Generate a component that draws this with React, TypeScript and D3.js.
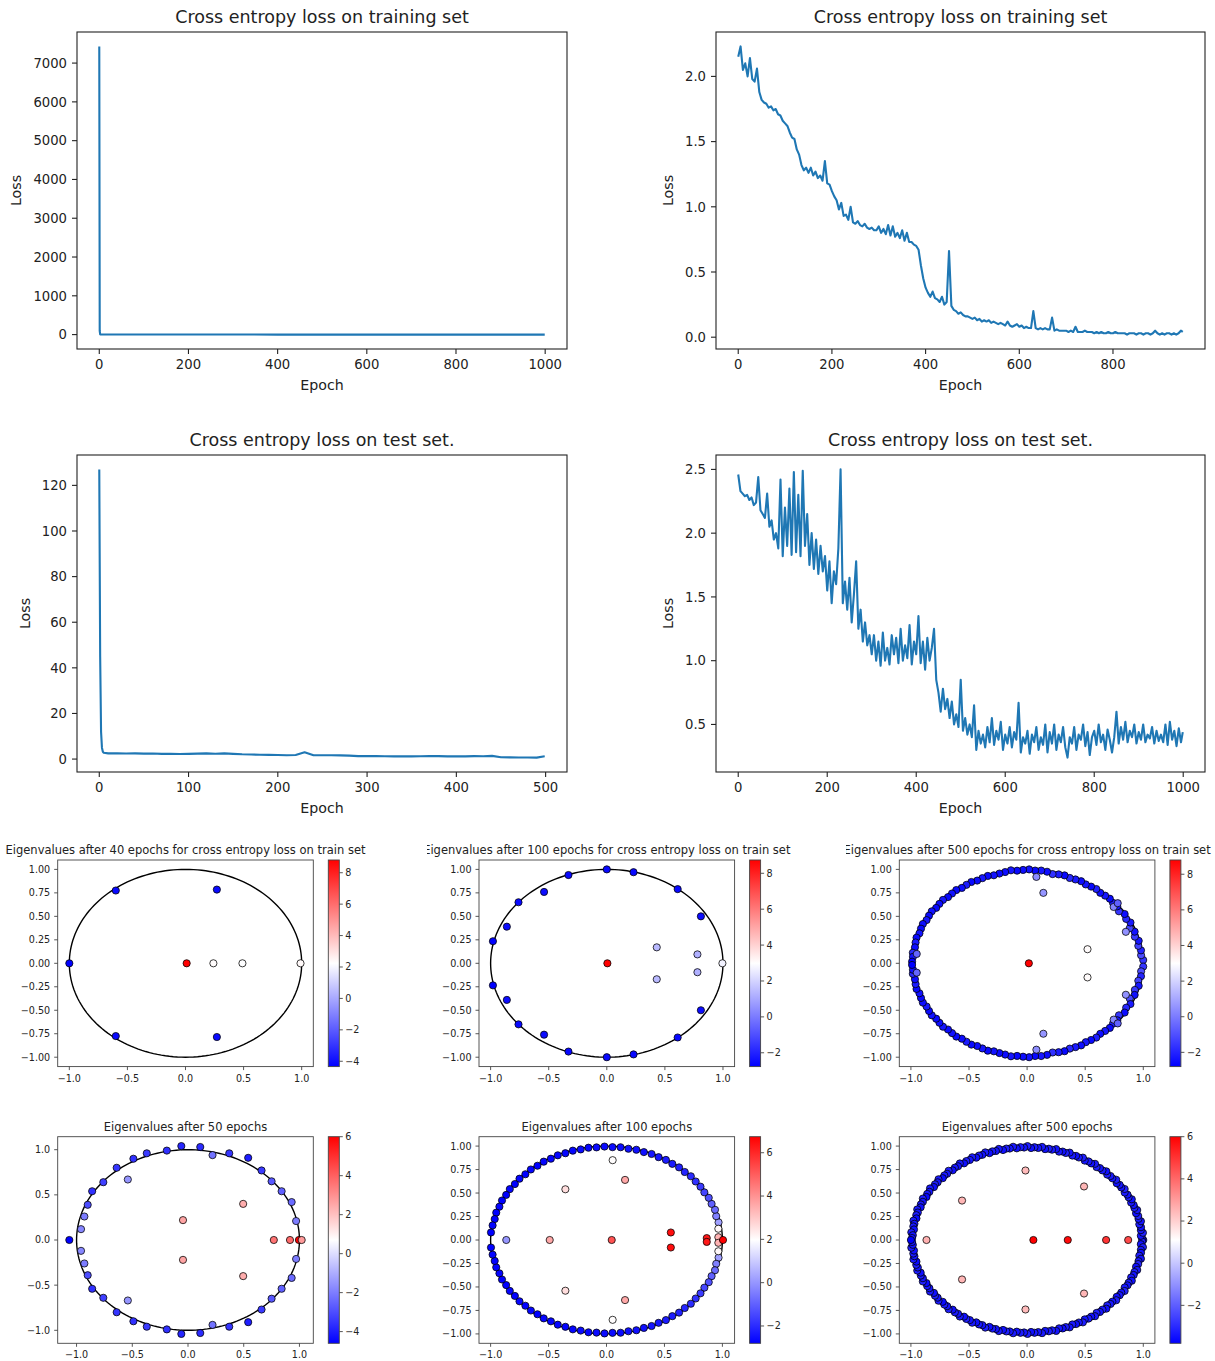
import React from 'react';
import * as d3 from 'd3';

const FONT = "'DejaVu Sans', sans-serif";
const LINE_COLOR = '#1f77b4';
const TXT = '#222';

// ---------------- Loss curves ----------------
const trainLossLeftEpochs = [0, 1, 2, 3, 5, 50, 100, 200, 300, 400, 500, 600, 700, 800, 900, 999];
const trainLossLeftValues = [7430, 95, 8, 2.6, 2.2, 2.0, 1.6, 1.1, 0.85, 0.35, 0.15, 0.08, 0.05, 0.03, 0.03, 0.03];
const trainLossLeftXTicks = [0, 200, 400, 600, 800, 1000];
const trainLossLeftYTicks = [0, 1000, 2000, 3000, 4000, 5000, 6000, 7000];

const trainLossRightValues = [
  2.15, 2.23, 2.05, 2.1, 2.0, 2.14, 1.98, 1.96, 2.06, 1.88,
  1.82, 1.8, 1.79, 1.76, 1.77, 1.74, 1.75, 1.71, 1.7, 1.66,
  1.64, 1.62, 1.57, 1.53, 1.52, 1.44, 1.4, 1.32, 1.28, 1.3,
  1.26, 1.3, 1.24, 1.27, 1.22, 1.24, 1.2, 1.35, 1.18, 1.17,
  1.12, 1.08, 1.05, 0.98, 1.03, 0.93, 0.94, 0.9, 1.0, 0.88,
  0.87, 0.89, 0.86, 0.85, 0.87, 0.84, 0.83, 0.84, 0.82, 0.82,
  0.85, 0.8, 0.83, 0.79, 0.86, 0.78, 0.85, 0.77, 0.8, 0.76,
  0.82, 0.74, 0.8, 0.73, 0.73, 0.71, 0.7, 0.67, 0.55, 0.45,
  0.38, 0.34, 0.31, 0.35, 0.3, 0.29, 0.27, 0.31, 0.25, 0.27,
  0.66, 0.24, 0.21, 0.2, 0.18, 0.19, 0.17, 0.16, 0.16, 0.15,
  0.14, 0.15, 0.13, 0.14, 0.12, 0.13, 0.12, 0.13, 0.11, 0.12,
  0.11, 0.1, 0.11, 0.1, 0.09, 0.12, 0.09, 0.08, 0.09, 0.1,
  0.08, 0.09, 0.07, 0.08, 0.07, 0.07, 0.2, 0.07, 0.06, 0.07,
  0.06, 0.07, 0.06, 0.06, 0.15, 0.05, 0.06, 0.05, 0.05, 0.05,
  0.05, 0.04, 0.05, 0.04, 0.08, 0.04, 0.04, 0.04, 0.05, 0.04,
  0.04, 0.04, 0.03, 0.04, 0.03, 0.04, 0.03, 0.03, 0.04, 0.03,
  0.03, 0.04, 0.03, 0.03, 0.03, 0.03, 0.02, 0.03, 0.03, 0.03,
  0.02, 0.03, 0.03, 0.02, 0.03, 0.03, 0.02, 0.03, 0.05, 0.03,
  0.02, 0.03, 0.02, 0.03, 0.03, 0.02, 0.03, 0.02, 0.03, 0.05,
  0.04,
];
const trainLossRightEpochs = trainLossRightValues.map((_, i) => Math.min(i * 5, 949));
const trainLossRightXTicks = [0, 200, 400, 600, 800];
const trainLossRightYTicks = [0, 0.5, 1.0, 1.5, 2.0];

const testLossLeftEpochs = [
  0, 1, 2, 3, 4, 5, 10, 20, 30, 40, 50, 60, 70, 80, 90, 100, 110, 120, 130, 140, 150, 160, 170, 180, 190, 200,
  210, 220, 230, 240, 250, 260, 270, 280, 290, 300, 310, 320, 330, 340, 350, 360, 370, 380, 390, 400,
  410, 420, 430, 440, 450, 460, 470, 480, 490, 499,
];
const testLossLeftValues = [
  127, 45, 12, 5, 3.2, 2.8,
  2.5, 2.5, 2.45, 2.5, 2.4, 2.45, 2.3, 2.35, 2.2, 2.3,
  2.4, 2.5, 2.35, 2.5, 2.3, 2.1, 2.0, 1.9, 1.85, 1.8,
  1.7, 1.8, 3.0, 1.7, 1.65, 1.7, 1.6, 1.5, 1.3, 1.3,
  1.3, 1.25, 1.2, 1.25, 1.2, 1.25, 1.3, 1.3, 1.2, 1.25,
  1.2, 1.3, 1.25, 1.4, 0.8, 0.75, 0.7, 0.7, 0.65,
  1.2,
];
const testLossLeftXTicks = [0, 100, 200, 300, 400, 500];
const testLossLeftYTicks = [0, 20, 40, 60, 80, 100, 120];

const testLossRightValues = [
  2.46, 2.33, 2.31, 2.29, 2.3, 2.26, 2.28, 2.22, 2.24, 2.44,
  2.18, 2.15, 2.12, 2.31, 2.05, 2.1, 1.95, 2.0, 1.88, 2.42,
  1.82, 2.2, 1.9, 2.35, 1.83, 2.48, 1.85, 2.3, 1.82, 2.49,
  1.9, 2.15, 1.75, 2.0, 1.72, 1.95, 1.68, 1.9, 1.7, 1.82,
  1.55, 1.78, 1.45, 1.7, 1.6, 1.88, 2.5, 1.45, 1.62, 1.4,
  1.65, 1.3, 1.52, 1.78, 1.25, 1.4, 1.15, 1.3, 1.12, 1.2,
  1.05, 1.2, 1.0, 1.15, 0.96, 1.22, 1.0, 1.1, 0.97, 1.2,
  1.05, 1.18, 0.98, 1.25, 1.0, 1.12, 1.02, 1.28, 0.97, 1.15,
  1.05, 1.35, 0.98, 1.15, 0.93, 1.18, 1.0, 1.1, 1.25, 0.85,
  0.75, 0.6, 0.78, 0.62, 0.7, 0.55, 0.68, 0.5, 0.58, 0.48,
  0.85, 0.45, 0.55, 0.42, 0.5, 0.4, 0.65, 0.3, 0.45, 0.35,
  0.42, 0.32, 0.48, 0.36, 0.55, 0.34, 0.45, 0.38, 0.52, 0.3,
  0.42, 0.35, 0.48, 0.32, 0.44, 0.38, 0.67, 0.28, 0.4, 0.35,
  0.45, 0.27, 0.42, 0.36, 0.48, 0.3, 0.4, 0.34, 0.5, 0.28,
  0.44, 0.35, 0.5, 0.3, 0.42, 0.36, 0.48, 0.32, 0.24, 0.4,
  0.35, 0.48, 0.3, 0.42, 0.38, 0.5, 0.33, 0.44, 0.26, 0.4,
  0.45, 0.34, 0.5, 0.36, 0.42, 0.3, 0.46, 0.38, 0.28, 0.4,
  0.6, 0.35, 0.48, 0.38, 0.52, 0.36, 0.45, 0.4, 0.5, 0.35,
  0.44, 0.38, 0.5, 0.36, 0.42, 0.39, 0.48, 0.35, 0.45, 0.37,
  0.42, 0.36, 0.5, 0.34, 0.52, 0.38, 0.45, 0.33, 0.47, 0.36,
  0.44,
];
const testLossRightEpochs = testLossRightValues.map((_, i) => Math.min(i * 5, 999));
const testLossRightXTicks = [0, 200, 400, 600, 800, 1000];
const testLossRightYTicks = [0.5, 1.0, 1.5, 2.0, 2.5];

// ---------------- Eigenvalues (upper half-plane; conjugates are mirrored) ----------------
type Pt = [number, number, number]; // re, im, colour value
type RingPt = [number, number, number]; // angle (deg), modulus, colour value

const eigTrain40: Pt[] = [
  [-1.0, 0, -4.34], [-0.6, 0.775, -4.1], [0.27, 0.785, -4.1],
  [0.01, 0, 8.81], [0.24, 0, 2.3], [0.49, 0, 2.2], [0.99, 0, 2.4],
];

const eigTrain100: Pt[] = [
  [0.0, 1.0, -2.6], [0.23, 0.97, -2.6], [0.61, 0.79, -2.6], [0.81, 0.5, -2.5],
  [-0.33, 0.94, -2.6], [-0.54, 0.76, -2.5], [-0.76, 0.65, -2.6], [-0.86, 0.39, -2.5], [-0.98, 0.235, -2.77],
  [0.005, 0, 8.74], [0.43, 0.17, 1.4], [0.78, 0.095, 1.2], [0.995, 0, 2.7],
];

const eigTrain500Inner: Pt[] = [
  [0.015, 0, 8.8], [0.52, 0.15, 3.1], [0.14, 0.75, 0.6], [0.08, 0.92, 0.4],
  [0.85, 0.335, 0.5], [0.745, 0.6, 0.2], [0.78, 0.64, -0.6], [-0.95, 0.1, -0.5],
];
const eigTrain500Ring: RingPt[] = [
  [2, 1.0, -1.6], [5, 0.985, -1.1], [8, 0.99, -2.0], [11, 0.975, -1.3], [14, 0.99, -2.3], [17, 0.97, -1.5],
  [20, 0.985, -2.4], [23, 0.96, -1.2], [26, 0.99, -2.2], [29, 0.975, -1.9], [32, 0.99, -2.5], [35, 0.965, -1.6],
  [38, 0.985, -2.4], [41, 0.98, -2.1], [44, 0.99, -2.6], [47, 0.985, -2.3], [50, 0.98, -2.5], [53, 0.99, -2.1],
  [56, 0.985, -2.6], [59, 0.98, -2.3], [62, 0.99, -2.5], [65, 0.985, -2.2], [68, 0.98, -1.9], [71, 0.99, -2.6],
  [74, 0.985, -2.2], [77, 0.975, -1.7], [80, 0.99, -2.5], [83, 0.995, -2.3], [86, 0.99, -2.6], [89, 1.0, -2.4],
  [92, 0.995, -2.5], [95, 0.99, -2.6], [98, 1.0, -2.3], [101, 0.99, -2.5], [104, 0.985, -2.6], [107, 0.98, -2.4],
  [110, 0.99, -2.6], [113, 0.985, -2.3], [116, 0.98, -2.5], [119, 0.99, -2.6], [122, 0.985, -2.2], [125, 0.98, -2.5],
  [128, 0.99, -2.6], [131, 0.985, -2.4], [134, 0.98, -2.6], [137, 0.99, -2.3], [140, 0.985, -2.5], [143, 0.98, -2.6],
  [146, 0.99, -2.4], [149, 0.985, -2.6], [152, 0.98, -2.3], [155, 0.99, -2.5], [158, 0.985, -2.6], [161, 0.98, -2.4],
  [164, 0.99, -2.6], [167, 0.985, -2.2], [170, 0.98, -2.5], [173.5, 0.99, -1.8], [176, 0.985, -2.4], [179, 0.99, -2.8],
];

const eigTest50: Pt[] = [
  [-1.065, 0, -4.6], [-0.96, 0.12, -1.8], [-0.93, 0.26, -2.0], [-0.9, 0.39, -3.0], [-0.86, 0.54, -3.6],
  [-0.76, 0.64, -3.3], [-0.64, 0.8, -3.5], [-0.54, 0.67, -1.5], [-0.49, 0.9, -3.6], [-0.37, 0.96, -3.4],
  [-0.19, 0.99, -3.6], [-0.06, 1.04, -3.8], [0.11, 1.03, -3.7], [0.22, 0.94, -2.2], [0.37, 0.96, -3.5],
  [0.54, 0.91, -4.0], [0.66, 0.77, -3.4], [0.75, 0.65, -2.8], [0.84, 0.54, -2.6], [0.93, 0.42, -2.4],
  [0.97, 0.21, -2.0], [-0.045, 0.22, 2.6], [0.495, 0.4, 2.4], [0.77, 0, 3.6], [0.915, 0, 3.8],
  [0.995, 0, 6.0], [1.02, 0, 2.8],
];

const eigTest100Inner: Pt[] = [
  [-0.865, 0, 0.0], [-0.49, 0, 3.6], [0.045, 0, 5.2], [-0.355, 0.54, 2.6], [0.16, 0.64, 3.6],
  [0.053, 0.85, 2.0], [0.555, 0.08, 6.5], [0.865, 0.02, 6.3], [0.965, 0.12, 2.1], [0.965, 0.03, 3.4],
  [1.005, 0, 6.74],
];
const eigTest100Ring: RingPt[] = [
  [11, 0.985, 0.2], [15, 0.98, -0.4], [19, 0.99, -0.8], [23, 0.985, -1.0], [27, 0.99, -1.3], [31, 0.985, -1.5],
  [35, 0.99, -1.7], [39, 0.99, -1.9], [43, 0.995, -2.0], [47, 0.99, -2.1], [51, 0.995, -2.2], [55, 0.99, -2.3],
  [59, 0.995, -2.3], [63, 0.99, -2.4], [67, 0.995, -2.4], [71, 0.99, -2.5], [75, 0.995, -2.5], [79, 0.99, -2.5],
  [83, 0.995, -2.6], [87, 0.99, -2.6], [91, 0.995, -2.6], [95, 0.99, -2.6], [99, 0.995, -2.7], [103, 0.99, -2.6],
  [107, 0.995, -2.7], [111, 0.99, -2.7], [115, 0.995, -2.7], [119, 0.99, -2.7], [123, 0.995, -2.7], [127, 0.99, -2.8],
  [131, 0.995, -2.7], [135, 0.99, -2.8], [139, 0.995, -2.7], [143, 0.99, -2.8], [147, 0.995, -2.7], [151, 0.99, -2.8],
  [155, 0.995, -2.8], [159, 0.99, -2.7], [163, 0.995, -2.8], [167, 0.99, -2.8], [171, 0.995, -2.7], [175.4, 1.0, -2.8],
];

const eigTest500Inner: Pt[] = [
  [-0.866, 0, 2.6], [0.054, 0, 6.0], [0.35, 0, 5.8], [0.68, 0, 5.0], [0.87, 0, 4.6],
  [-0.56, 0.42, 2.5], [-0.014, 0.74, 2.4], [0.49, 0.57, 2.5],
];
const eigTest500Ring: RingPt[] = [
  [0, 1.0, -3.3], [0.9, 0.99, -3.2], [2.6, 0.98, -3.4], [4.4, 1.0, -3.1], [6.1, 0.985, -3.3], [7.9, 0.99, -3.5],
  [9.8, 0.98, -3.2], [11.5, 1.0, -3.4], [13.2, 0.985, -3.3], [15.0, 0.99, -3.1], [16.9, 0.98, -3.5], [18.6, 1.0, -3.3],
  [20.3, 0.985, -3.2], [22.1, 0.99, -3.4], [24.0, 0.98, -3.3], [25.7, 1.0, -3.5], [27.5, 0.985, -3.2], [29.2, 0.99, -3.4],
  [31.0, 0.98, -3.3], [32.9, 1.0, -3.1], [34.6, 0.985, -3.4], [36.4, 0.99, -3.3], [38.1, 0.98, -3.5], [39.9, 1.0, -3.2],
  [41.8, 0.985, -3.4], [43.5, 0.99, -3.3], [45.3, 0.98, -3.2], [47.0, 1.0, -3.5], [48.8, 0.985, -3.3], [50.7, 0.99, -3.4],
  [52.4, 0.98, -3.2], [54.2, 1.0, -3.3], [55.9, 0.985, -3.5], [57.7, 0.99, -3.3], [59.6, 0.98, -3.4], [61.3, 1.0, -3.2],
  [63.1, 0.985, -3.3], [64.8, 0.99, -3.5], [66.6, 0.98, -3.3], [68.5, 1.0, -3.4], [70.2, 0.985, -3.2], [72.0, 0.99, -3.5],
  [73.7, 0.98, -3.3], [75.5, 1.0, -3.4], [77.4, 0.985, -3.3], [79.1, 0.99, -3.2], [80.9, 0.98, -3.5], [82.6, 1.0, -3.3],
  [84.4, 0.985, -3.4], [86.3, 0.99, -3.3], [88.0, 0.98, -3.5], [89.8, 1.0, -3.2], [91.5, 0.985, -3.4], [93.3, 0.99, -3.3],
  [95.2, 0.98, -3.5], [96.9, 1.0, -3.3], [98.7, 0.985, -3.4], [100.4, 0.99, -3.2], [102.2, 0.98, -3.5], [104.1, 1.0, -3.3],
  [105.8, 0.985, -3.4], [107.6, 0.99, -3.3], [109.3, 0.98, -3.5], [111.1, 1.0, -3.2], [113.0, 0.985, -3.4], [114.7, 0.99, -3.3],
  [116.5, 0.98, -3.5], [118.2, 1.0, -3.3], [120.0, 0.985, -3.4], [121.9, 0.99, -3.2], [123.6, 0.98, -3.5], [125.4, 1.0, -3.3],
  [127.1, 0.985, -3.4], [128.9, 0.99, -3.3], [130.8, 0.98, -3.5], [132.5, 1.0, -3.2], [134.3, 0.985, -3.4], [136.0, 0.99, -3.3],
  [137.8, 0.98, -3.6], [139.7, 1.0, -3.3], [141.4, 0.985, -3.4], [143.2, 0.99, -3.2], [144.9, 0.98, -3.5], [146.7, 1.0, -3.3],
  [148.6, 0.985, -3.4], [150.3, 0.99, -3.3], [152.1, 0.98, -3.6], [153.8, 1.0, -3.2], [155.6, 0.985, -3.4], [157.5, 0.99, -3.3],
  [159.2, 0.98, -3.5], [161.0, 1.0, -3.3], [162.7, 0.985, -3.4], [164.5, 0.99, -3.2], [166.4, 0.98, -3.6], [168.1, 1.0, -3.3],
  [169.9, 0.985, -3.4], [171.6, 0.99, -3.3], [173.4, 0.98, -3.5], [175.3, 1.0, -3.2], [177.0, 0.985, -3.4], [178.8, 0.99, -3.3],
  [180, 1.0, -3.8],
];

const unitYTicks = [-1, -0.75, -0.5, -0.25, 0, 0.25, 0.5, 0.75, 1];
const halfYTicks = [-1, -0.5, 0, 0.5, 1];
const unitXTicks = [-1, -0.5, 0, 0.5, 1];

const fromRing = (ring: RingPt[]): Pt[] =>
  ring.map(([a, r, v]) => [r * Math.cos((a * Math.PI) / 180), r * Math.sin((a * Math.PI) / 180), v] as Pt);
const withConjugates = (pts: Pt[]): Pt[] =>
  pts.flatMap((p) => (p[1] > 1e-9 ? [p, [p[0], -p[1], p[2]] as Pt] : [p]));

const padDomain = (lo: number, hi: number): [number, number] => {
  const m = (hi - lo) * 0.05;
  return [lo - m, hi + m];
};

// ---------------- Components ----------------
function LossChart(props: {
  box: { x: number; y: number; w: number; h: number };
  title: string;
  epochs: number[];
  values: number[];
  xTicks: number[];
  yTicks: number[];
  yFmt: string;
  yLabelX: number;
}) {
  const { box, title, epochs, values, xTicks, yTicks, yFmt, yLabelX } = props;
  const [x0, x1] = d3.extent(epochs) as [number, number];
  const [y0, y1] = d3.extent(values) as [number, number];
  const x = d3.scaleLinear().domain(padDomain(x0, x1)).range([box.x, box.x + box.w]);
  const y = d3.scaleLinear().domain(padDomain(y0, y1)).range([box.y + box.h, box.y]);
  const line = d3
    .line<number>()
    .x((_, i) => x(epochs[i]))
    .y((d) => y(d));
  const fmt = d3.format(yFmt);
  const tl = 5;
  return (
    <g fontFamily={FONT}>
      <text x={box.x + box.w / 2} y={box.y - 9} textAnchor="middle" fontSize={17.5} fill={TXT}>
        {title}
      </text>
      <path d={line(values) || ''} fill="none" stroke={LINE_COLOR} strokeWidth={2.1} strokeLinejoin="round" />
      <rect x={box.x} y={box.y} width={box.w} height={box.h} fill="none" stroke={TXT} strokeWidth={1.1} />
      {xTicks.map((t) => (
        <g key={'x' + t}>
          <line x1={x(t)} x2={x(t)} y1={box.y + box.h} y2={box.y + box.h + tl} stroke={TXT} strokeWidth={1.1} />
          <text x={x(t)} y={box.y + box.h + 20} textAnchor="middle" fontSize={13.2} fill={TXT}>
            {String(t)}
          </text>
        </g>
      ))}
      {yTicks.map((t) => (
        <g key={'y' + t}>
          <line x1={box.x - tl} x2={box.x} y1={y(t)} y2={y(t)} stroke={TXT} strokeWidth={1.1} />
          <text x={box.x - 10} y={y(t)} dy="0.36em" textAnchor="end" fontSize={13.2} fill={TXT}>
            {fmt(t)}
          </text>
        </g>
      ))}
      <text x={box.x + box.w / 2} y={box.y + box.h + 41} textAnchor="middle" fontSize={14.2} fill={TXT}>
        Epoch
      </text>
      <text
        transform={`translate(${yLabelX},${box.y + box.h / 2}) rotate(-90)`}
        textAnchor="middle"
        dy="0.36em"
        fontSize={14.2}
        fill={TXT}
      >
        Loss
      </text>
    </g>
  );
}

function EigPanel(props: {
  id: string;
  ox: number;
  oy: number;
  title: string;
  pts: Pt[];
  yTicks: number[];
  yFmt: string;
  cTicks: number[];
  clipLeft: number;
}) {
  const { id, ox, oy, title, pts, yTicks, yFmt, cTicks, clipLeft } = props;
  const ax = { x: ox + 57.7, y: oy, w: 255.6, h: 206.6 };
  const xs = pts.map((p) => p[0]).concat([-1, 1]);
  const ys = pts.map((p) => p[1]).concat([-1, 1]);
  const x = d3
    .scaleLinear()
    .domain(padDomain(d3.min(xs) as number, d3.max(xs) as number))
    .range([ax.x, ax.x + ax.w]);
  const y = d3
    .scaleLinear()
    .domain(padDomain(d3.min(ys) as number, d3.max(ys) as number))
    .range([ax.y + ax.h, ax.y]);
  const vs = pts.map((p) => p[2]);
  const vmin = d3.min(vs) as number;
  const vmax = d3.max(vs) as number;
  const color = d3
    .scaleLinear<string>()
    .domain([vmin, (vmin + vmax) / 2, vmax])
    .range(['#0000ff', '#ffffff', '#ff0000'])
    .interpolate(d3.interpolateRgb);
  const circle = d3.line()(
    d3.range(0, 361, 2).map((a) => [x(Math.cos((a * Math.PI) / 180)), y(Math.sin((a * Math.PI) / 180))] as [number, number])
  );
  const cb = { x: ax.x + ax.w + 15, y: ax.y, w: 11, h: ax.h };
  const c = d3.scaleLinear().domain([vmin, vmax]).range([cb.y + cb.h, cb.y]);
  const xf = d3.format('.1f');
  const yf = d3.format(yFmt);
  const tl = 3.5;
  const fs = 9.6;
  return (
    <g fontFamily={FONT}>
      <defs>
        <linearGradient id={'grad' + id} x1="0" y1="1" x2="0" y2="0">
          <stop offset="0" stopColor="#0000ff" />
          <stop offset="0.5" stopColor="#ffffff" />
          <stop offset="1" stopColor="#ff0000" />
        </linearGradient>
        <clipPath id={'clip' + id}>
          <rect x={clipLeft} y={oy - 30} width={420} height={30} />
        </clipPath>
      </defs>
      <text
        x={ax.x + ax.w / 2}
        y={oy - 6}
        textAnchor="middle"
        fontSize={11.5}
        fill={TXT}
        clipPath={`url(#clip${id})`}
      >
        {title}
      </text>
      <rect x={ax.x} y={ax.y} width={ax.w} height={ax.h} fill="#fff" stroke="#444" strokeWidth={0.9} />
      <path d={circle || ''} fill="none" stroke="#000" strokeWidth={1.4} />
      {pts.map((p, i) => (
        <circle
          key={i}
          cx={x(p[0])}
          cy={y(p[1])}
          r={3.6}
          fill={color(p[2])}
          stroke="#000"
          strokeOpacity={0.85}
          strokeWidth={0.9}
        />
      ))}
      {unitXTicks.map((t) => (
        <g key={'x' + t}>
          <line x1={x(t)} x2={x(t)} y1={ax.y + ax.h} y2={ax.y + ax.h + tl} stroke="#444" strokeWidth={0.9} />
          <text x={x(t)} y={ax.y + ax.h + 15} textAnchor="middle" fontSize={fs} fill={TXT}>
            {xf(t)}
          </text>
        </g>
      ))}
      {yTicks.map((t) => (
        <g key={'y' + t}>
          <line x1={ax.x - tl} x2={ax.x} y1={y(t)} y2={y(t)} stroke="#444" strokeWidth={0.9} />
          <text x={ax.x - 7.5} y={y(t)} dy="0.36em" textAnchor="end" fontSize={fs} fill={TXT}>
            {yf(t)}
          </text>
        </g>
      ))}
      <rect x={cb.x} y={cb.y} width={cb.w} height={cb.h} fill={`url(#grad${id})`} stroke="#444" strokeWidth={0.9} />
      {cTicks.map((t) => (
        <g key={'c' + t}>
          <line x1={cb.x + cb.w} x2={cb.x + cb.w + tl} y1={c(t)} y2={c(t)} stroke="#444" strokeWidth={0.9} />
          <text x={cb.x + cb.w + 6} y={c(t)} dy="0.36em" textAnchor="start" fontSize={fs} fill={TXT}>
            {d3.format('d')(t)}
          </text>
        </g>
      ))}
    </g>
  );
}

export default function App() {
  const row1 = 860;
  const row2 = 1136.7;
  const ox = [0, 421.3, 841.6];
  const clips = [0, 427, 846];
  return (
    <svg
      width={1215}
      height={1361}
      viewBox="0 0 1215 1361"
      style={{ position: 'absolute', left: 0, top: 0, background: '#fff' }}
    >
      <rect x={0} y={0} width={1215} height={1361} fill="#fff" />
      <LossChart
        box={{ x: 77, y: 32, w: 490, h: 317 }}
        title="Cross entropy loss on training set"
        epochs={trainLossLeftEpochs}
        values={trainLossLeftValues}
        xTicks={trainLossLeftXTicks}
        yTicks={trainLossLeftYTicks}
        yFmt="d"
        yLabelX={16}
      />
      <LossChart
        box={{ x: 716, y: 32, w: 489, h: 317 }}
        title="Cross entropy loss on training set"
        epochs={trainLossRightEpochs}
        values={trainLossRightValues}
        xTicks={trainLossRightXTicks}
        yTicks={trainLossRightYTicks}
        yFmt=".1f"
        yLabelX={668}
      />
      <LossChart
        box={{ x: 77, y: 455, w: 490, h: 317 }}
        title="Cross entropy loss on test set."
        epochs={testLossLeftEpochs}
        values={testLossLeftValues}
        xTicks={testLossLeftXTicks}
        yTicks={testLossLeftYTicks}
        yFmt="d"
        yLabelX={25}
      />
      <LossChart
        box={{ x: 716, y: 455, w: 489, h: 317 }}
        title="Cross entropy loss on test set."
        epochs={testLossRightEpochs}
        values={testLossRightValues}
        xTicks={testLossRightXTicks}
        yTicks={testLossRightYTicks}
        yFmt=".1f"
        yLabelX={668}
      />

      <EigPanel
        id="a"
        ox={ox[0]}
        oy={row1}
        title="Eigenvalues after 40 epochs for cross entropy loss on train set"
        pts={withConjugates(eigTrain40)}
        yTicks={unitYTicks}
        yFmt=".2f"
        cTicks={[-4, -2, 0, 2, 4, 6, 8]}
        clipLeft={clips[0]}
      />
      <EigPanel
        id="b"
        ox={ox[1]}
        oy={row1}
        title="Eigenvalues after 100 epochs for cross entropy loss on train set"
        pts={withConjugates(eigTrain100)}
        yTicks={unitYTicks}
        yFmt=".2f"
        cTicks={[-2, 0, 2, 4, 6, 8]}
        clipLeft={clips[1]}
      />
      <EigPanel
        id="c"
        ox={ox[2]}
        oy={row1}
        title="Eigenvalues after 500 epochs for cross entropy loss on train set"
        pts={withConjugates(fromRing(eigTrain500Ring).concat(eigTrain500Inner))}
        yTicks={unitYTicks}
        yFmt=".2f"
        cTicks={[-2, 0, 2, 4, 6, 8]}
        clipLeft={clips[2]}
      />
      <EigPanel
        id="d"
        ox={ox[0]}
        oy={row2}
        title="Eigenvalues after 50 epochs"
        pts={withConjugates(eigTest50)}
        yTicks={halfYTicks}
        yFmt=".1f"
        cTicks={[-4, -2, 0, 2, 4, 6]}
        clipLeft={clips[0]}
      />
      <EigPanel
        id="e"
        ox={ox[1]}
        oy={row2}
        title="Eigenvalues after 100 epochs"
        pts={withConjugates(fromRing(eigTest100Ring).concat(eigTest100Inner))}
        yTicks={unitYTicks}
        yFmt=".2f"
        cTicks={[-2, 0, 2, 4, 6]}
        clipLeft={clips[1]}
      />
      <EigPanel
        id="f"
        ox={ox[2]}
        oy={row2}
        title="Eigenvalues after 500 epochs"
        pts={withConjugates(fromRing(eigTest500Ring).concat(eigTest500Inner))}
        yTicks={unitYTicks}
        yFmt=".2f"
        cTicks={[-2, 0, 2, 4, 6]}
        clipLeft={clips[2]}
      />
    </svg>
  );
}
